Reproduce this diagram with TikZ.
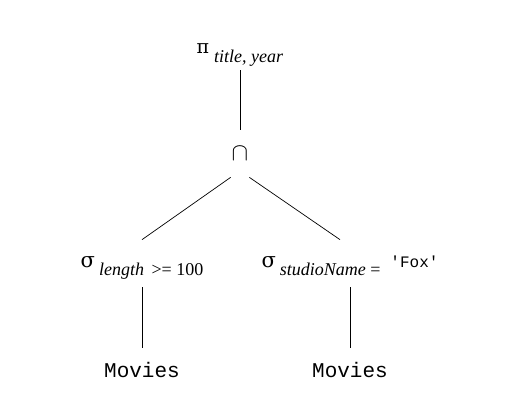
\documentclass[tikz,border=0pt]{standalone}
\usepackage{fontspec}
\setmainfont{Liberation Serif}
\setmonofont{Liberation Mono}
\newfontfamily\greekfont{DejaVu Serif}
\usepackage{tikz}

\newcommand{\opsym}[1]{\raisebox{8pt}{\fontsize{21}{21}\greekfont #1}}

\begin{document}
\begin{tikzpicture}
    [x=1pt,y=-1pt,line width=0.7pt,
      every node/.style={inner sep=0pt,anchor=base,font=\fontsize{18}{18}\selectfont},
      opnode/.style={text height=35pt,text depth=12pt},
      relnode/.style={text height=29pt,font=\fontsize{21}{21}\selectfont\ttfamily}]
    \useasboundingbox (0,0) rectangle (517,405);
    \node[text depth=8pt] (proj) at (240,62)
      {\raisebox{9pt}{\fontsize{19}{19}\greekfont π}\hspace{5pt}\textit{title, year}};
    \node[text height=30pt,text depth=17pt,minimum width=18pt] (inter) at (240,160)
      {\fontsize{27}{27}\selectfont$\cap$};
    \node[opnode] (sell) at (142,275)
      {\opsym{σ}\hspace{4pt}\textit{length}\hspace{3pt} >= 100};
    \node[opnode] (selr) at (350,275)
      {\opsym{σ}\hspace{4pt}\textit{studioName} =\hspace{10pt}\raisebox{8pt}{\fontsize{16}{16}\selectfont\ttfamily 'Fox'}};
    \node[relnode] (movl) at (142,377) {Movies};
    \node[relnode] (movr) at (350,377) {Movies};
    \draw (proj.south) -- (inter.north);
    \draw (inter.south west) -- (sell.north);
    \draw (inter.south east) -- ([xshift=-10pt]selr.north);
    \draw (sell.south) -- (movl.north);
    \draw (selr.south) -- (movr.north);
  \end{tikzpicture}
\end{document}
